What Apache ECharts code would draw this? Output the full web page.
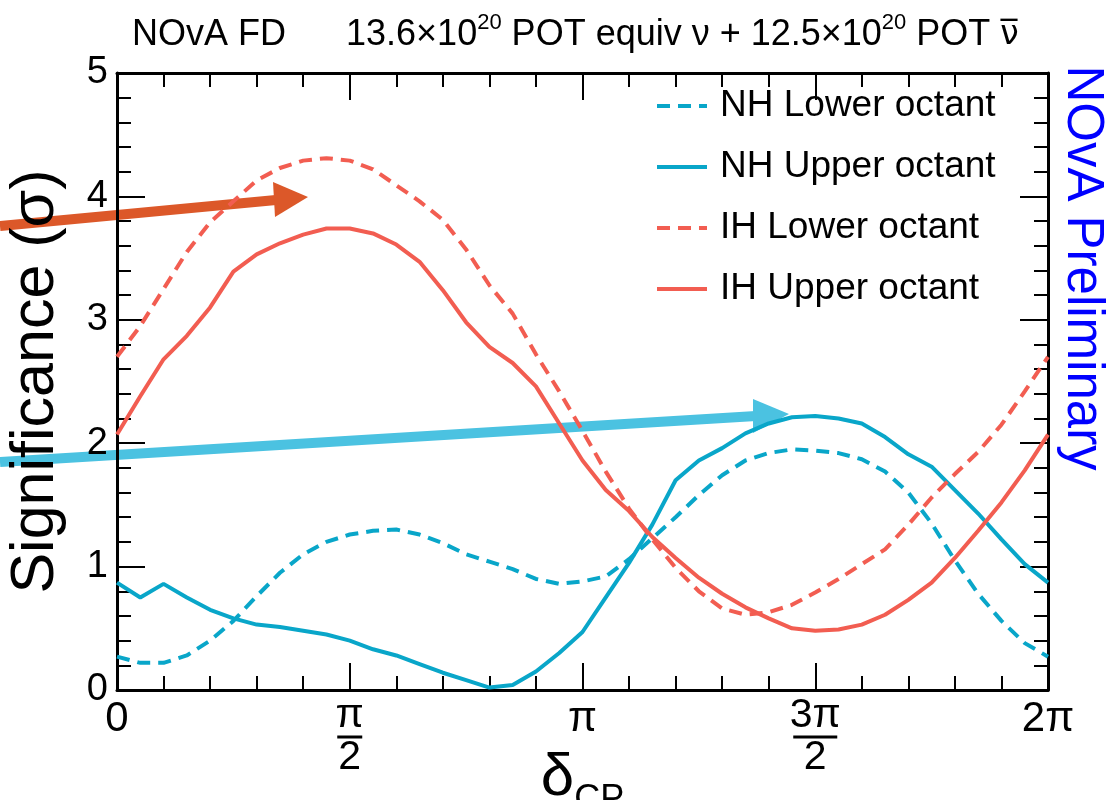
<!DOCTYPE html>
<html>
<head>
<meta charset="utf-8">
<script src="https://cdn.jsdelivr.net/npm/echarts@6.0.0/dist/echarts.min.js"></script>
<style>
  html, body { margin: 0; padding: 0; background: #fff; }
  #main { width: 1110px; height: 800px; }
</style>
</head>
<body>
<div id="main"></div>
<script>
// delta_CP in units of pi, one point every 0.05 pi
const deltaCP = [0, 0.05, 0.1, 0.15, 0.2, 0.25, 0.3, 0.35, 0.4, 0.45, 0.5,
  0.55, 0.6, 0.65, 0.7, 0.75, 0.8, 0.85, 0.9, 0.95, 1.0,
  1.05, 1.1, 1.15, 1.2, 1.25, 1.3, 1.35, 1.4, 1.45, 1.5,
  1.55, 1.6, 1.65, 1.7, 1.75, 1.8, 1.85, 1.9, 1.95, 2.0];

const nhLower = [0.27, 0.22, 0.22, 0.28, 0.40, 0.56, 0.76, 0.95, 1.10, 1.20, 1.26,
  1.29, 1.30, 1.26, 1.19, 1.10, 1.04, 0.98, 0.90, 0.86, 0.88,
  0.92, 1.06, 1.23, 1.40, 1.58, 1.74, 1.86, 1.92, 1.95, 1.94,
  1.92, 1.87, 1.77, 1.60, 1.35, 1.05, 0.78, 0.56, 0.38, 0.27];

const nhUpper = [0.87, 0.75, 0.86, 0.75, 0.65, 0.58, 0.53, 0.51, 0.48, 0.45, 0.40,
  0.33, 0.28, 0.21, 0.14, 0.08, 0.02, 0.04, 0.15, 0.30, 0.47,
  0.75, 1.03, 1.34, 1.70, 1.86, 1.96, 2.08, 2.16, 2.21, 2.22,
  2.20, 2.16, 2.05, 1.91, 1.81, 1.62, 1.43, 1.22, 1.02, 0.87];

const ihLower = [2.70, 2.95, 3.25, 3.55, 3.79, 3.96, 4.13, 4.23, 4.29, 4.31, 4.29,
  4.22, 4.09, 3.96, 3.81, 3.57, 3.28, 3.05, 2.72, 2.42, 2.10,
  1.77, 1.47, 1.22, 0.99, 0.80, 0.66, 0.61, 0.63, 0.69, 0.79,
  0.90, 1.02, 1.14, 1.34, 1.56, 1.75, 1.93, 2.15, 2.42, 2.70];

const ihUpper = [2.07, 2.38, 2.68, 2.87, 3.10, 3.39, 3.53, 3.62, 3.69, 3.74, 3.74,
  3.70, 3.61, 3.47, 3.24, 2.98, 2.78, 2.65, 2.46, 2.16, 1.86,
  1.62, 1.45, 1.24, 1.07, 0.91, 0.78, 0.67, 0.58, 0.50, 0.48,
  0.49, 0.53, 0.61, 0.73, 0.87, 1.07, 1.29, 1.52, 1.78, 2.07];

const xTickLabels = {
  0: '0',
  0.5: '{n|π}\n{b|}\n{n|2}',
  1: 'π',
  1.5: '{n|3π}\n{bw|}\n{n|2}',
  2: '2π'
};

const NH_COLOR = '#09a6c9';
const IH_COLOR = '#f25d51';

const chart = echarts.init(document.getElementById('main'));

const pairs = (ys) => deltaCP.map((x, i) => [x, ys[i]]);

const frameX = {
  type: 'value', min: 0, max: 2, interval: 0.5,
  axisLine: { show: true, onZero: false, lineStyle: { color: '#000', width: 3 } },
  axisTick: { show: true, inside: true, length: 27, lineStyle: { color: '#000', width: 2 } },
  minorTick: { show: true, splitNumber: 5, length: 14, lineStyle: { color: '#000', width: 2 } },
  splitLine: { show: false }
};
const frameY = {
  type: 'value', min: 0, max: 5, interval: 1,
  axisLine: { show: true, onZero: false, lineStyle: { color: '#000', width: 3 } },
  axisTick: { show: true, inside: true, length: 28, lineStyle: { color: '#000', width: 2 } },
  minorTick: { show: true, splitNumber: 5, length: 14, lineStyle: { color: '#000', width: 2 } },
  splitLine: { show: false }
};

const lineSeries = (name, ys, color, dashed) => ({
  name: name,
  type: 'line',
  data: pairs(ys),
  symbol: 'none',
  showSymbol: false,
  smooth: false,
  lineStyle: { color: color, width: 4, type: dashed ? [13, 8] : 'solid' },
  itemStyle: { color: color }
});

const option = {
  animation: false,
  backgroundColor: '#fff',
  textStyle: { fontFamily: 'Liberation Sans, Arial, sans-serif' },
  title: {
    left: 127, top: 7,
    text: '{a|NOvA FD      13.6×10}{s|20}{a| POT equiv ν + 12.5×10}{s|20}{a| POT }{nb|ν\u0305}',
    textStyle: {
      rich: {
        a: { fontSize: 36, lineHeight: 46, color: '#000', fontWeight: 'normal', fontFamily: 'Liberation Sans' },
        s: { fontSize: 22, lineHeight: 22, verticalAlign: 'top', color: '#000', fontWeight: 'normal', fontFamily: 'Liberation Sans' },
        nb: { fontSize: 33, lineHeight: 46, color: '#000', fontWeight: 'normal', fontFamily: 'DejaVu Sans' }
      }
    }
  },
  grid: { left: 117, right: 62, top: 73, bottom: 110, outerBoundsMode: 'none', containLabel: false },
  legend: {
    orient: 'vertical',
    left: 655, top: 86, padding: 0,
    itemWidth: 50, itemHeight: 14, itemGap: 21,
    itemStyle: { opacity: 0 },
    lineStyle: { width: 4 },
    textStyle: { fontSize: 37, lineHeight: 40, color: '#000', padding: [0, 0, 0, 8] },
    data: ['NH Lower octant', 'NH Upper octant', 'IH Lower octant', 'IH Upper octant']
  },
  xAxis: [
    Object.assign({}, frameX, {
      position: 'bottom',
      name: '{d|δ}{s|CP}',
      nameLocation: 'middle',
      nameGap: 58,
      nameMoveOverlap: false,
      nameTextStyle: {
        rich: {
          d: { fontSize: 60, lineHeight: 60, verticalAlign: 'top', color: '#000' },
          s: { fontSize: 36, lineHeight: 36, padding: [34, 0, 0, 0], verticalAlign: 'top', color: '#000' }
        }
      },
      axisLabel: {
        show: true, margin: 8, color: '#000', fontSize: 42,
        formatter: (v) => xTickLabels[v] !== undefined ? xTickLabels[v] : '',
        rich: {
          n: { fontSize: 41, lineHeight: 36, color: '#000' },
          b: { width: 25, height: 3, lineHeight: 6, backgroundColor: '#000' },
          bw: { width: 44, height: 3, lineHeight: 6, backgroundColor: '#000' }
        }
      }
    }),
    Object.assign({}, frameX, { position: 'top', axisLabel: { show: false } })
  ],
  yAxis: [
    Object.assign({}, frameY, {
      position: 'left',
      name: 'Significance (σ)',
      nameLocation: 'middle',
      nameRotate: 90,
      nameGap: 50,
      nameMoveOverlap: false,
      nameTextStyle: { fontSize: 61, color: '#000' },
      axisLabel: { show: true, margin: 9, color: '#000', fontSize: 38 }
    }),
    Object.assign({}, frameY, { position: 'right', axisLabel: { show: false } })
  ],
  series: [
    lineSeries('NH Lower octant', nhLower, NH_COLOR, true),
    lineSeries('NH Upper octant', nhUpper, NH_COLOR, false),
    lineSeries('IH Lower octant', ihLower, IH_COLOR, true),
    lineSeries('IH Upper octant', ihUpper, IH_COLOR, false)
  ],
  graphic: [
    {
      type: 'text', x: 1082, y: 268, rotation: -Math.PI / 2,
      style: {
        text: 'NOvA Preliminary', fill: '#0000ff', fontSize: 51,
        fontFamily: 'Liberation Sans', align: 'center', verticalAlign: 'middle'
      }
    },
    // annotation arrows on top of the plot
    {
      type: 'group', z: 100,
      children: [
        { type: 'line', shape: { x1: 0, y1: 226, x2: 276, y2: 200 }, style: { stroke: '#dc5829', lineWidth: 10 } },
        { type: 'polygon', shape: { points: [[273, 182], [308, 197], [275, 217]] }, style: { fill: '#dc5829' } },
        { type: 'line', shape: { x1: 0, y1: 462, x2: 756, y2: 416 }, style: { stroke: '#4bc2e1', lineWidth: 10 } },
        { type: 'polygon', shape: { points: [[753, 399], [789, 414], [753, 433]] }, style: { fill: '#4bc2e1' } }
      ]
    }
  ]
};

chart.setOption(option);
</script>
</body>
</html>
